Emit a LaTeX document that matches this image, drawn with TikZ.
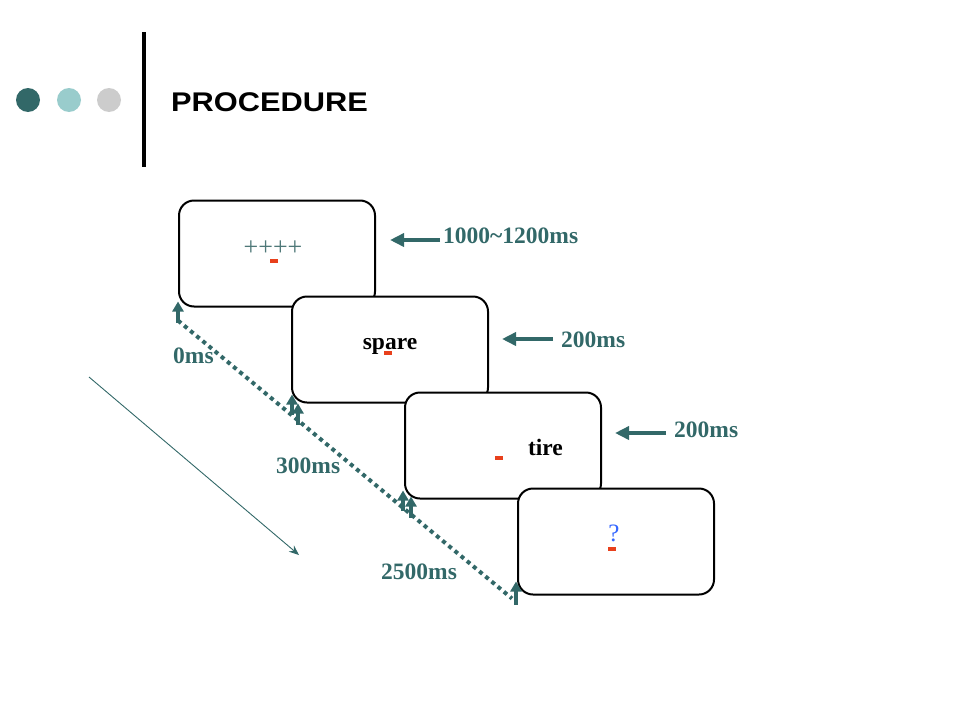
\documentclass[tikz,border=0pt]{standalone}
\usepackage{fontspec}
\setmainfont{Liberation Serif}
\newfontfamily\headfont{Liberation Sans}
\usepackage{xcolor}
\usetikzlibrary{arrows.meta, positioning}
\definecolor{tealdark}{RGB}{50,104,104}
\definecolor{teallight}{RGB}{153,204,204}
\definecolor{dotgrey}{RGB}{204,204,204}
\definecolor{plusgrey}{RGB}{78,120,120}
\definecolor{markred}{RGB}{232,64,28}
\definecolor{qblue}{RGB}{51,102,255}

\begin{document}
\begin{tikzpicture}[x=1pt,y=-1pt,node distance=96pt and 113pt,on grid,inner sep=0pt]
      \tikzstyle{bullet}=[circle,minimum size=24pt]
      \tikzstyle{screen}=[draw,line width=2pt,rounded corners=15pt,fill=white,minimum width=196pt,minimum height=106pt]
      \tikzstyle{word}=[anchor=base,font=\fontsize{23.5}{24}\selectfont\bfseries]
      \tikzstyle{fixmark}=[fill=markred,minimum width=8pt,minimum height=4.5pt]
      \tikzstyle{dur}=[anchor=west,text=tealdark,font=\fontsize{23.5}{24}\selectfont\bfseries]
      \tikzstyle{durarrow}=[draw=tealdark,line width=4pt,-{Triangle[length=14pt,width=13pt]}]
      \tikzstyle{uparrow}=[draw=tealdark,line width=3.5pt,-{Triangle[length=10pt,width=11pt]}]
      \useasboundingbox (0,0) rectangle (960,720);

      % header
      \node[bullet,fill=tealdark](b_1) at (28,100){};
      \node[bullet,fill=teallight](b_2)[right=41pt of b_1]{};
      \node[bullet,fill=dotgrey](b_3)[right=40pt of b_2]{};
      \fill (142,32) rectangle (146,167);
      \node[anchor=west,font=\headfont\fontsize{27}{27}\selectfont\bfseries](title) at (171,102.5){\scalebox{1.14}[1]{PROCEDURE}};

      % screens
      \node[screen](fix) at (277,253.5){};
      \node[text=plusgrey,font=\fontsize{26}{26}\selectfont](fix_t) at (273,248){++++};
      \node[fixmark](fix_m) at (274,261){};
      \node[screen](prime)[below right=of fix]{};
      \node[word](prime_t) at (390,349){spare};
      \node[fixmark](prime_m) at (388,353){};
      \node[screen](target)[below right=of prime]{};
      \node[word](target_t) at (545.5,455){tire};
      \node[fixmark](target_m) at (499,458){};
      \node[screen](query)[below right=of target]{};
      \node[anchor=base,text=qblue,font=\fontsize{25}{25}\selectfont](query_t) at (614,541){?};
      \node[fixmark](query_m) at (612,549){};

      % durations
      \node[dur](d_fix) at (443,236){1000\textasciitilde1200ms};
      \node[dur](d_prime) at (561,340){200ms};
      \node[dur](d_target) at (674,430){200ms};
      \draw[durarrow] ([xshift=-3pt,yshift=-4pt]d_fix.west) -- ([xshift=-53pt,yshift=-4pt]d_fix.west);
      \draw[durarrow] ([xshift=-8pt,yshift=1pt]d_prime.west) -- ([xshift=-59pt,yshift=1pt]d_prime.west);
      \draw[durarrow] ([xshift=-8pt,yshift=-3pt]d_target.west) -- ([xshift=-59pt,yshift=-3pt]d_target.west);

      % time line
      \node[dur](t_0) at (173,356){0ms};
      \node[dur](t_1) at (276,466){300ms};
      \node[dur](t_2) at (381,572){2500ms};
      \draw[tealdark,line width=4pt,dash pattern=on 4pt off 4pt]
            ([yshift=-13pt]fix.south west) -- ([xshift=-5pt,yshift=-3pt]query.south west);
      \draw[uparrow] ([yshift=-15pt]fix.south west) -- ([yshift=6pt]fix.south west);
      \draw[uparrow] ([xshift=1pt,yshift=-11pt]prime.south west) -- ([xshift=1pt,yshift=9pt]prime.south west);
      \draw[uparrow] ([xshift=7pt,yshift=-21pt]prime.south west) -- ([xshift=7pt]prime.south west);
      \draw[uparrow] ([xshift=-1pt,yshift=-11pt]target.south west) -- ([xshift=-1pt,yshift=9pt]target.south west);
      \draw[uparrow] ([xshift=7pt,yshift=-18pt]target.south west) -- ([xshift=7pt,yshift=3pt]target.south west);
      \draw[uparrow] ([xshift=-1pt,yshift=-9pt]query.south west) -- ([xshift=-1pt,yshift=14pt]query.south west);

      \coordinate (flow_a) at (89,377);
      \coordinate (flow_b) at (299,555);
      \draw[tealdark,line width=0.9pt,-{Stealth[length=10pt,width=8pt]}] (flow_a) -- (flow_b);
\end{tikzpicture}
\end{document}
